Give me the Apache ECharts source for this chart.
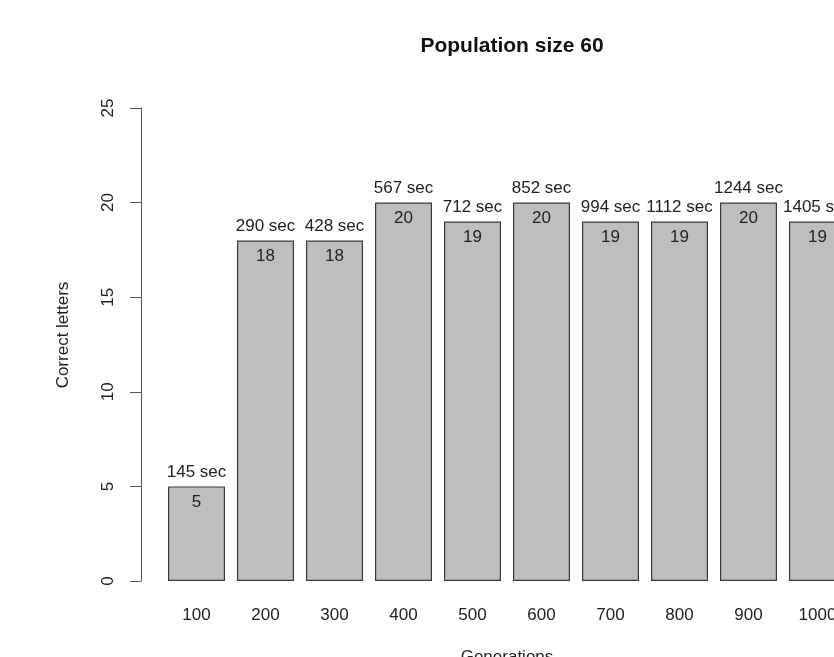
<!DOCTYPE html>
<html>
<head>
<meta charset="utf-8">
<script src="https://cdn.jsdelivr.net/npm/echarts@6/dist/echarts.min.js"></script>
<style>html,body{margin:0;padding:0;background:#fff;}#c{width:834px;height:657px;}</style>
</head>
<body>
<div id="c"></div>
<script>
const generations = ['100','200','300','400','500','600','700','800','900','1000'];
const correctLetters = [5, 18, 18, 20, 19, 20, 19, 19, 20, 19];
const seconds = [145, 290, 428, 567, 712, 852, 994, 1112, 1244, 1405];
const yTicks = {min: 0, max: 25, interval: 5};

const FONT = 'Liberation Sans, Arial, sans-serif';
const chart = echarts.init(document.getElementById('c'), null, {renderer: 'canvas'});
chart.setOption({
  animation: false,
  backgroundColor: '#ffffff',
  title: {
    text: 'Population size 60',
    left: 507, top: 31, textAlign: 'center',
    textStyle: {fontFamily: FONT, fontSize: 21, fontWeight: 'bold', color: '#111'}
  },
  grid: {left: 162, top: 108, width: 690, height: 473, containLabel: false, outerBoundsMode: 'none'},
  xAxis: {
    type: 'category',
    data: generations,
    axisLine: {show: false},
    axisTick: {show: false},
    axisLabel: {margin: 26, fontFamily: FONT, fontSize: 17, color: '#222'},
    name: 'Generations',
    nameLocation: 'middle',
    nameGap: 68,
    nameTextStyle: {fontFamily: FONT, fontSize: 17, color: '#222'}
  },
  yAxis: {
    type: 'value',
    min: yTicks.min, max: yTicks.max, interval: yTicks.interval,
    offset: 21,
    axisLine: {show: true, lineStyle: {color: '#555', width: 1}},
    axisTick: {show: true, length: 11, lineStyle: {color: '#555'}},
    splitLine: {show: false},
    axisLabel: {rotate: 90, margin: 24, fontFamily: FONT, fontSize: 17, color: '#222'}
  },
  graphic: [{
    type: 'text',
    x: 63, y: 335, rotation: Math.PI / 2,
    style: {text: 'Correct letters', fontFamily: FONT, fontSize: 17, fill: '#222', align: 'center', verticalAlign: 'middle'}
  }],
  series: [
    {
      type: 'bar',
      data: correctLetters,
      barWidth: 57,
      itemStyle: {color: '#bebebe', borderColor: '#3a3a3a', borderWidth: 1.2},
      label: {show: true, position: 'insideTop', distance: 7, fontFamily: FONT, fontSize: 17, color: '#222'}
    },
    {
      type: 'bar',
      data: correctLetters,
      barWidth: 57,
      barGap: '-100%',
      itemStyle: {color: 'rgba(0,0,0,0)'},
      silent: true,
      label: {
        show: true, position: 'top', distance: 6, fontFamily: FONT, fontSize: 17, color: '#222',
        formatter: p => seconds[p.dataIndex] + ' sec'
      }
    }
  ]
});
</script>
</body>
</html>
